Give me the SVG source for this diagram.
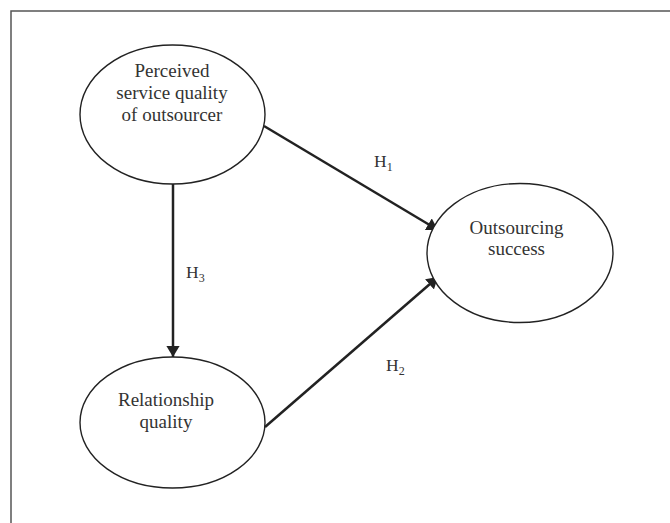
<svg xmlns="http://www.w3.org/2000/svg" width="670" height="523" viewBox="0 0 670 523">
<style>
.node{fill:#fff;stroke:#222;stroke-width:1.4}
.lbl{font-family:"Liberation Serif","Times New Roman",serif;font-size:19px;fill:#333;text-anchor:middle}
.h{font-family:"Liberation Serif","Times New Roman",serif;font-size:17.5px;fill:#333}
.sub{font-size:12px}
.edge{stroke:#222;stroke-width:2.5;fill:none}
</style>
<defs>
<marker id="arr" viewBox="0 0 10 12" refX="10" refY="6" markerWidth="4.6" markerHeight="5.4" markerUnits="strokeWidth" orient="auto">
<path d="M0,0 L10,6 L0,12 z" fill="#222"/>
</marker>
</defs>
<rect width="670" height="523" fill="#fff"/>
<path d="M11,523 V11 H670" fill="none" stroke="#555" stroke-width="1.5"/>
<g id="connectors">
<line class="edge" x1="264" y1="126" x2="438" y2="230" marker-end="url(#arr)"/>
<line class="edge" x1="265" y1="427" x2="438" y2="277" marker-end="url(#arr)"/>
<line class="edge" x1="173" y1="184" x2="173" y2="357" marker-end="url(#arr)"/>
<text class="h" x="374" y="167">H<tspan class="sub" dy="4">1</tspan></text>
<text class="h" x="386" y="371">H<tspan class="sub" dy="4">2</tspan></text>
<text class="h" x="186" y="278">H<tspan class="sub" dy="4">3</tspan></text>
</g>
<g id="node-perceived">
<ellipse class="node" cx="172.5" cy="114.5" rx="92.5" ry="69.5"/>
<text class="lbl" x="172" y="77">Perceived</text>
<text class="lbl" x="172" y="99">service quality</text>
<text class="lbl" x="172" y="121">of outsourcer</text>
</g>
<g id="node-relationship">
<ellipse class="node" cx="172.5" cy="422.5" rx="92.5" ry="65.5"/>
<text class="lbl" x="166" y="406">Relationship</text>
<text class="lbl" x="166" y="428">quality</text>
</g>
<g id="node-success">
<ellipse class="node" cx="520" cy="253" rx="93" ry="69.5"/>
<text class="lbl" x="516.5" y="234">Outsourcing</text>
<text class="lbl" x="516.5" y="255">success</text>
</g>
</svg>
